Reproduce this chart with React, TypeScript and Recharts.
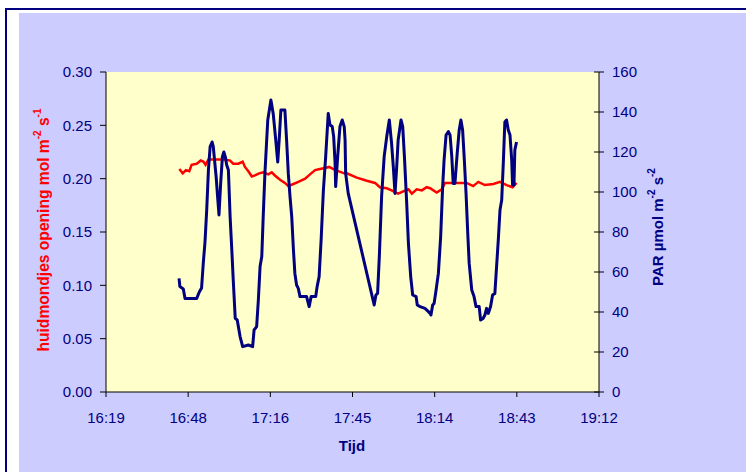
import { CartesianGrid, Line, LineChart, XAxis, YAxis } from "recharts";

// time in minutes since midnight
const stomataTimes = [1004.9, 1006.1, 1007.2, 1008.4, 1009.2, 1011.0, 1012.4, 1013.3, 1014.1, 1015.1, 1018.0, 1020.9, 1022.7, 1023.8, 1025.6, 1027.1, 1027.9, 1029.1, 1030.3, 1031.4, 1032.9, 1034.3, 1036.1, 1037.3, 1038.4, 1040.2, 1041.9, 1043.1, 1044.9, 1046.6, 1049.0, 1050.7, 1052.5, 1054.2, 1056.0, 1057.4, 1058.9, 1060.6, 1062.7, 1063.6, 1067.1, 1070.6, 1073.5, 1075.2, 1077.6, 1079.3, 1081.6, 1083.4, 1085.2, 1086.4, 1088.1, 1089.9, 1091.6, 1092.8, 1095.1, 1096.9, 1098.0, 1102.1, 1105.6, 1107.9, 1109.7, 1112.0, 1115.0, 1117.3, 1119.6, 1121.7, 1123.1];
const stomataValues = [0.209, 0.205, 0.208, 0.207, 0.213, 0.214, 0.217, 0.216, 0.213, 0.218, 0.218, 0.218, 0.217, 0.214, 0.214, 0.216, 0.211, 0.207, 0.202, 0.203, 0.205, 0.206, 0.204, 0.206, 0.203, 0.199, 0.196, 0.193, 0.195, 0.197, 0.200, 0.204, 0.208, 0.209, 0.210, 0.211, 0.209, 0.207, 0.205, 0.205, 0.201, 0.198, 0.196, 0.192, 0.191, 0.189, 0.186, 0.188, 0.190, 0.186, 0.190, 0.189, 0.192, 0.191, 0.187, 0.190, 0.196, 0.196, 0.196, 0.193, 0.197, 0.194, 0.195, 0.197, 0.194, 0.192, 0.196];

const parTimes = [1004.8, 1005.1, 1006.3, 1006.9, 1011.0, 1011.9, 1012.7, 1013.3, 1013.9, 1014.5, 1015.1, 1015.7, 1016.4, 1016.8, 1017.8, 1018.4, 1018.8, 1019.4, 1020.0, 1020.5, 1021.0, 1021.5, 1022.1, 1022.7, 1023.3, 1023.8, 1024.5, 1025.2, 1026.2, 1027.1, 1029.1, 1030.6, 1031.1, 1032.0, 1032.6, 1033.2, 1033.8, 1034.3, 1034.9, 1035.9, 1037.0, 1037.8, 1038.7, 1039.4, 1039.9, 1040.5, 1041.9, 1042.5, 1043.1, 1043.7, 1044.3, 1044.9, 1045.4, 1046.0, 1046.6, 1047.2, 1049.5, 1050.4, 1051.1, 1052.7, 1053.2, 1053.9, 1054.6, 1055.4, 1056.2, 1057.1, 1057.7, 1058.5, 1059.0, 1059.5, 1059.7, 1060.4, 1061.2, 1062.0, 1062.7, 1063.0, 1063.2, 1064.1, 1073.2, 1073.8, 1074.4, 1075.0, 1075.8, 1076.7, 1077.6, 1078.5, 1079.3, 1079.9, 1080.5, 1081.1, 1081.6, 1082.6, 1083.2, 1083.8, 1084.6, 1085.2, 1086.0, 1086.7, 1087.9, 1088.3, 1089.3, 1091.0, 1092.2, 1092.8, 1093.1, 1093.7, 1094.2, 1094.9, 1095.7, 1096.5, 1097.2, 1097.7, 1098.4, 1099.2, 1099.8, 1100.4, 1100.9, 1101.5, 1102.3, 1103.0, 1103.6, 1104.2, 1104.8, 1105.4, 1106.0, 1106.5, 1107.4, 1108.2, 1108.9, 1110.0, 1110.5, 1111.4, 1112.0, 1112.6, 1113.2, 1114.0, 1114.7, 1115.5, 1116.1, 1116.7, 1117.3, 1117.9, 1118.5, 1119.0, 1119.6, 1120.2, 1120.8, 1121.4, 1121.7, 1122.2, 1122.5, 1123.1];
const parValues = [56.8, 52.7, 51.5, 46.8, 46.8, 50, 52, 64.5, 75, 91, 111, 122.7, 125, 122.7, 107.7, 96, 88.5, 104.5, 117.7, 120, 117.7, 113.5, 111, 87.7, 71, 56, 36.8, 36, 27.7, 22.7, 23.5, 22.7, 31, 32.7, 46, 62.7, 67.7, 87.7, 109.3, 136, 146, 139.3, 126, 115, 126, 141, 141, 126, 109.3, 97.7, 87.7, 71, 59.3, 53.5, 51.8, 47.7, 47.7, 42.7, 47.7, 47.7, 52.7, 57.7, 76, 101, 117.7, 139.3, 133.5, 132.7, 127.7, 114.3, 102.7, 117.7, 132.7, 136, 132.7, 126, 109.3, 99.3, 43.5, 48.5, 49.3, 67.7, 97.7, 117.7, 127.7, 136, 124.3, 112.7, 99.3, 112.7, 126, 136, 132.7, 117.7, 94.3, 74.3, 57.7, 48.5, 47.7, 43.5, 42.7, 41.8, 40.2, 39.3, 38.5, 43.5, 44.3, 51, 59.3, 77.7, 102.7, 116, 128.5, 130.2, 128.5, 117.7, 104.3, 104.3, 119.3, 131, 136, 131, 116, 99.3, 79.3, 64.3, 51, 47.7, 42.7, 42.7, 36, 36.8, 38.5, 41.8, 39.3, 42.7, 48.5, 49.3, 62.7, 76, 91, 96, 116, 135, 136, 131, 128.5, 116, 103.5, 103.5, 121, 125];

const xTicks = [979.2, 1008, 1036.8, 1065.6, 1094.4, 1123.2, 1152];
const xTickLabels = ["16:19", "16:48", "17:16", "17:45", "18:14", "18:43", "19:12"];
const leftTicks = [0, 0.05, 0.1, 0.15, 0.2, 0.25, 0.3];
const rightTicks = [0, 20, 40, 60, 80, 100, 120, 140, 160];

const stomataData = stomataTimes.map((t, i) => ({ t, v: stomataValues[i] }));
const parData = parTimes.map((t, i) => ({ t, v: parValues[i] }));

const NAVY = "#000080";
const FONT = "'Liberation Sans', Arial, sans-serif";

const RightTick = (props: any) => {
    const { x, y, payload } = props;
    return (
        <g>
            <line x1={x - 5} x2={x + 5} y1={y} y2={y} stroke="#000" />
            <text x={x + 13} y={y} dy="0.355em" fill={NAVY} fontSize={15} fontFamily={FONT}>{payload.value}</text>
        </g>
    );
};

const leftTitle = () => (
    <text x={43} y={230} transform="rotate(-90 43 230)" textAnchor="middle" dominantBaseline="central"
          fill="#ff0000" fontSize={15.6} fontWeight="bold" fontFamily={FONT}>
        huidmondjes opening mol m<tspan fontSize={10} dy={-6}>-2</tspan><tspan dy={6}> s</tspan><tspan fontSize={10} dy={-6}>-1</tspan>
    </text>
);

const rightTitle = () => (
    <text x={657} y={227} transform="rotate(-90 657 227)" textAnchor="middle" dominantBaseline="central"
          fill={NAVY} fontSize={15} fontWeight="bold" fontFamily={FONT}>
        PAR µmol m<tspan fontSize={10} dy={-6}>-2</tspan><tspan dy={6}> s</tspan><tspan fontSize={10} dy={-6}>-2</tspan>
    </text>
);

const xTitle = () => (
    <text x={352} y={445} textAnchor="middle" dominantBaseline="central" fill={NAVY} fontSize={15} fontWeight="bold" fontFamily={FONT}>
        Tijd
    </text>
);

export default function App() {
    return (
        <div style={{ position: 'relative', width: 746, height: 472, background: '#fff', overflow: 'hidden' }}>
            <style>{"body{margin:0}"}</style>
            <div style={{ position: 'absolute', left: 5, top: 8, width: 741, height: 464, borderTop: `2px solid ${NAVY}`, borderLeft: `2px solid ${NAVY}`, boxSizing: 'border-box' }} />
            <div style={{ position: 'absolute', left: 19, top: 13, width: 727, height: 459, background: '#CCCCFF' }} />
            <div style={{ position: 'absolute', left: 0, top: 0 }}>
                <LineChart width={746} height={472} margin={{ top: 72, right: 67, bottom: 20, left: 46 }}>
                    <CartesianGrid horizontal={false} vertical={false} fill="#FFFFCC" fillOpacity={1} />
                    <XAxis type="number" dataKey="t" domain={[979.2, 1152]} ticks={xTicks} height={60}
                           allowDataOverflow={true}
                           tickFormatter={(_v: number, i: number) => xTickLabels[i]}
                           axisLine={{ stroke: '#000' }} tickLine={{ stroke: '#000' }} tickSize={5} tickMargin={15}
                           tick={{ fill: NAVY, fontSize: 15, fontFamily: FONT }}
                           label={xTitle} />
                    <YAxis yAxisId="left" type="number" domain={[0, 0.3]} ticks={leftTicks} width={60}
                           tickFormatter={(v: number) => v.toFixed(2)}
                           axisLine={{ stroke: '#000' }} tickLine={{ stroke: '#000' }} tickSize={6} tickMargin={8}
                           tick={{ fill: NAVY, fontSize: 15, fontFamily: FONT }}
                           label={leftTitle} />
                    <YAxis yAxisId="right" orientation="right" type="number" domain={[0, 160]} ticks={rightTicks} width={80}
                           axisLine={{ stroke: '#000' }} tickLine={false} tickSize={0} tickMargin={0}
                           tick={<RightTick />}
                           label={rightTitle} />
                    <Line yAxisId="left" data={stomataData} dataKey="v" type="linear" dot={false}
                          stroke="#ff0000" strokeWidth={2.5} isAnimationActive={false} />
                    <Line yAxisId="right" data={parData} dataKey="v" type="linear" dot={false}
                          stroke={NAVY} strokeWidth={3} strokeLinejoin="round" isAnimationActive={false} />
                </LineChart>
            </div>
        </div>
    );
}
